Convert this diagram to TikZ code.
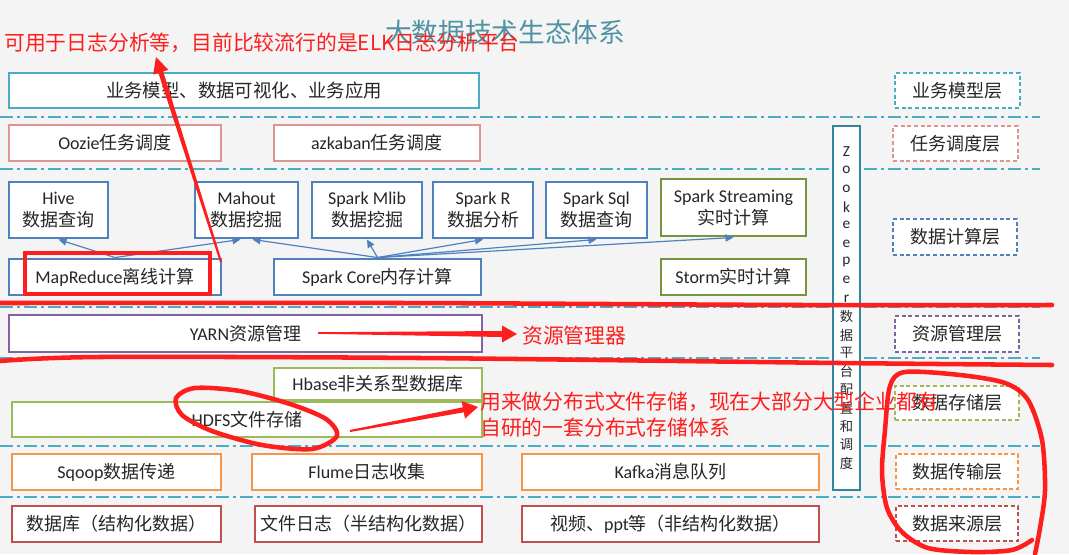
\documentclass[tikz,border=0pt]{standalone}
\usepackage{fontspec}
\setmainfont{Noto Sans CJK SC}
\newfontfamily\lat{Carlito}
\usetikzlibrary{arrows.meta}
\definecolor{tealc}{HTML}{4BACC6}
\definecolor{pinkc}{HTML}{D99694}
\definecolor{bluec}{HTML}{4F81BD}
\definecolor{olivec}{HTML}{77933C}
\definecolor{purpc}{HTML}{8064A2}
\definecolor{greenc}{HTML}{9BBB59}
\definecolor{orangec}{HTML}{F79646}
\definecolor{redc}{HTML}{C0504D}
\definecolor{zkc}{HTML}{31859C}
\definecolor{titlec}{HTML}{4F93A3}
\definecolor{ink}{HTML}{262626}
\definecolor{hred}{HTML}{FF1E1E}
\definecolor{bgc}{HTML}{F4F4F4}
\newcommand\bx[7]{\node[#6, minimum width={(#4-#2)*0.75pt}, minimum height={(#5-#3)*0.75pt}] (#1) at ({(#2+#4)/2},{(#3+#5)/2}) {#7};}
\begin{document}
\begin{tikzpicture}[x=0.75pt,y=-0.75pt,
  box/.style={draw, line width=2.2pt, fill=white, inner sep=0pt, align=center, text=ink, font=\fontsize{13.5}{16.5}\selectfont},
  layer/.style={draw, line width=1.1pt, dash pattern=on 3pt off 2pt, fill=white, inner sep=0pt, text=ink, font=\fontsize{13.5}{16}\selectfont},
  sep/.style={tealc, line width=1.5pt, dash pattern=on 9.75pt off 3pt on 2.25pt off 3pt},
  barrow/.style={bluec, line width=0.9pt, -{Triangle[length=6pt,width=5.5pt]}},
  zkl/.style={inner sep=0pt, text=ink, font=\fontsize{10}{11}\selectfont},
  hand/.style={hred, line width=3.4pt, line cap=round, line join=round},
  hnote/.style={inner sep=0pt, text=hred, font=\fontsize{15.6}{19.5}\selectfont}]
\useasboundingbox (0,0) rectangle (1069,554);
\fill[bgc] (0,0) rectangle (1069,554);
% title
\node[inner sep=0pt, font=\fontsize{20}{24}\selectfont, text=titlec] (title) at (505,32) {大数据技术生态体系};
% separators
\foreach \y in {117,169,307,358,446,497} \draw[sep] (0,\y) -- (1040,\y);
% main boxes
\bx{biz}{9}{73}{479}{108}{box,draw=tealc,font=\fontsize{13.8}{17}\selectfont}{业务模型、数据可视化、业务应用}
\bx{oozie}{9}{125}{221}{161}{box,draw=pinkc}{{\lat Oozie}任务调度}
\bx{azk}{274}{125}{480}{161}{box,draw=pinkc}{{\lat azkaban}任务调度}
\bx{hive}{9}{182}{108}{238}{box,draw=bluec}{{\lat Hive}\\数据查询}
\bx{mahout}{195}{182}{298}{238}{box,draw=bluec}{{\lat Mahout}\\数据挖掘}
\bx{mlib}{312}{182}{422}{238}{box,draw=bluec}{{\lat Spark Mlib}\\数据挖掘}
\bx{sparkr}{433}{182}{533}{238}{box,draw=bluec}{{\lat Spark R}\\数据分析}
\bx{sql}{546}{182}{647}{238}{box,draw=bluec}{{\lat Spark Sql}\\数据查询}
\bx{stream}{661}{179}{806}{236}{box,draw=olivec}{{\lat Spark Streaming}\\实时计算}
\bx{mr}{9}{259}{221}{295}{box,draw=bluec}{{\lat MapReduce}离线计算}
\bx{core}{274}{259}{481}{295}{box,draw=bluec}{{\lat Spark Core}内存计算}
\bx{storm}{661}{259}{806}{295}{box,draw=olivec}{{\lat Storm}实时计算}
\bx{yarn}{9}{315}{482}{352}{box,draw=purpc}{{\lat YARN}资源管理}
\bx{hbase}{274}{368}{482}{400}{box,draw=greenc}{{\lat Hbase}非关系型数据库}
\bx{hdfs}{12}{402}{482}{437}{box,draw=greenc}{{\lat HDFS}文件存储}
\bx{sqoop}{12}{454}{221}{490}{box,draw=orangec}{{\lat Sqoop}数据传递}
\bx{flume}{252}{454}{482}{490}{box,draw=orangec}{{\lat Flume}日志收集}
\bx{kafka}{522}{454}{819}{490}{box,draw=orangec}{{\lat Kafka}消息队列}
\bx{db}{12}{506}{221}{542}{box,draw=redc}{数据库（结构化数据）}
\bx{flog}{255}{506}{482}{542}{box,draw=redc}{文件日志（半结构化数据）}
\bx{video}{522}{506}{819}{542}{box,draw=redc}{视频、{\lat ppt}等（非结构化数据）}
% zookeeper
\bx{zk}{833}{126}{860}{490}{box,draw=zkc}{}
\foreach \c [count=\i from 0] in {Z,o,o,k,e,e,p,e,r}
  \node[zkl,font=\lat\fontsize{11.5}{12}\selectfont] (zka\i) at (846.5,{152+18.3*\i}) {\c};
\foreach \c [count=\i from 9] in {数,据,平,台,配,置,和,调,度}
  \node[zkl] (zkb\i) at (846.5,{152+18.3*\i}) {\c};
% layer labels
\bx{L1}{895}{73}{1020}{108}{layer,draw=tealc}{业务模型层}
\bx{L2}{893}{126}{1018}{161}{layer,draw=pinkc}{任务调度层}
\bx{L3}{893}{219}{1017}{255}{layer,draw=bluec}{数据计算层}
\bx{L4}{895}{316}{1019}{352}{layer,draw=purpc}{资源管理层}
\bx{L5}{895}{386}{1019}{420}{layer,draw=greenc}{数据存储层}
\bx{L6}{896}{454}{1018}{489}{layer,draw=orangec}{数据传输层}
\bx{L7}{896}{506}{1018}{541}{layer,draw=redc}{数据来源层}
% computing arrows
\draw[barrow] (mr.north) -- (hive.south);
\draw[barrow] (mr.north) -- ([xshift=-4.5pt]mahout.south);
\draw[barrow] (core.north) -- ([xshift=4.5pt]mahout.south);
\draw[barrow] (core.north) -- (mlib.south);
\draw[barrow] (core.north) -- (sparkr.south);
\draw[barrow] (core.north) -- (sql.south);
\draw[barrow] (core.north) -- (stream.south);
% red hand annotations
\draw[hand] plot[smooth] coordinates {(0,303) (400,303) (800,305) (1052,305)};
\draw[hand] plot[smooth] coordinates {(0,361) (100,357) (420,358) (840,363) (1052,365)};
\draw[hand, line width=2.6pt, line cap=butt, line join=miter] (25,253) rectangle (210,294);
\draw[hand] plot[smooth cycle] coordinates {(176,398) (195,388) (240,391) (290,404) (326,419) (337,436) (312,449) (262,445) (212,431) (182,415)};
\draw[hand] plot[smooth] coordinates {(1035,554) (1040,528) (1045,490) (1042,440) (1028,400) (1005,383) (960,375) (905,372) (890,386) (885,430) (882,472) (887,508) (902,532) (928,548) (972,552) (1012,550) (1032,540)};
\fill[hred] (220,262.3) -- (158.4,73.0) -- (153.2,74.6) -- (156,57) -- (168.4,69.8) -- (163.2,71.4) -- (222,261.7) -- cycle;
\fill[hred] (318,332.2) -- (502,331) -- (502,325.5) -- (517,334) -- (502,342.5) -- (502,337) -- (318,333.8) -- cycle;
\fill[hred] (349.8,430) -- (462.8,407.3) -- (461.6,401) -- (478,407) -- (465,418.6) -- (463.8,412.3) -- (350.2,432) -- cycle;
\node[hnote, anchor=west] (n1) at (4,43) {可用于日志分析等，目前比较流行的是ELK日志分析平台};
\node[hnote, anchor=west] (n2) at (522,336) {资源管理器};
\node[hnote, anchor=west, align=left] (n3) at (480,415) {用来做分布式文件存储，现在大部分大型企业都有\\自研的一套分布式存储体系};
\end{tikzpicture}
\end{document}
